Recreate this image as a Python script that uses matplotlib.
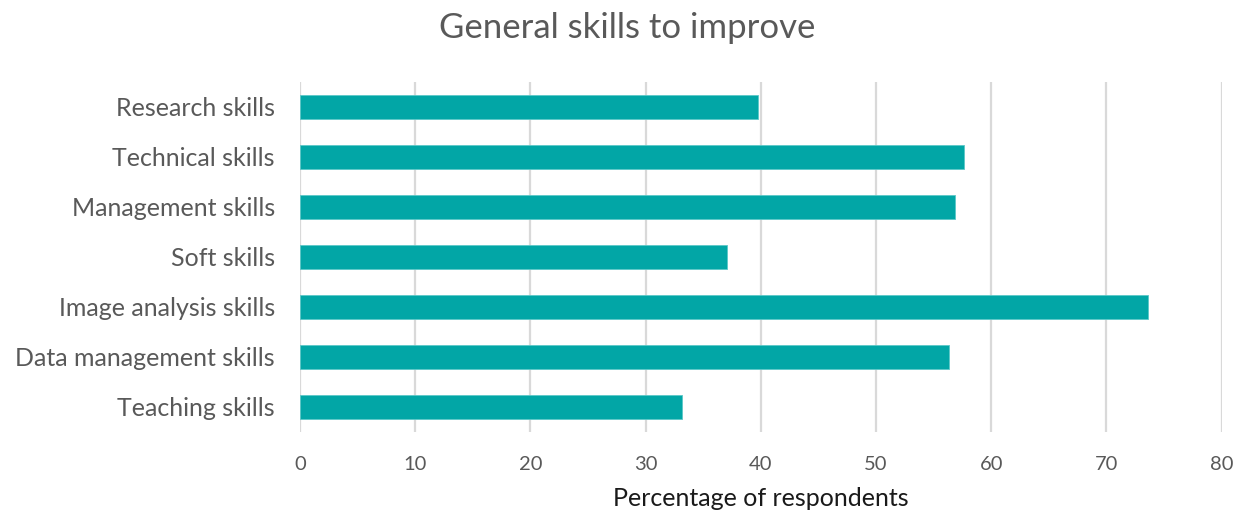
import matplotlib
matplotlib.use("Agg")
import matplotlib.pyplot as plt

categories = ["Research skills", "Technical skills", "Management skills", "Soft skills",
              "Image analysis skills", "Data management skills", "Teaching skills"]
percentages = [39.8, 57.6, 56.9, 37.1, 73.6, 56.3, 33.2]
x_ticks = [0, 10, 20, 30, 40, 50, 60, 70, 80]

plt.rcParams["font.family"] = ["Lato", "DejaVu Sans"]

fig = plt.figure(figsize=(12.41, 5.17), dpi=100)
ax = fig.add_axes([300 / 1241, 1 - 432 / 517, 921.6 / 1241, 350 / 517])

ypos = list(range(len(categories)))
ax.barh(ypos, percentages, height=0.48, color="#02a6a6", edgecolor="#5cc8c8",
        linewidth=0.6, zorder=3)

ax.set_ylim(len(categories) - 0.5, -0.5)
ax.set_yticks(ypos)
ax.set_yticklabels(categories, fontsize=18, color="#595959")
ax.set_xlim(0, 80)
ax.set_xticks(x_ticks)
ax.set_xticklabels([str(t) for t in x_ticks], fontsize=14.5, color="#595959")

ax.tick_params(axis="y", length=0, pad=18)
ax.tick_params(axis="x", length=0, pad=17)
ax.grid(axis="x", color="#d9d9d9", linewidth=1.6, zorder=0)
for s in ax.spines.values():
    s.set_visible(False)

ax.set_xlabel("Percentage of respondents", fontsize=18, color="#1a1a1a", labelpad=10)
fig.text(627 / 1241, 1 - 28 / 517, "General skills to improve", ha="center", va="center",
         fontsize=25, color="#595959")

fig.savefig("out.png", dpi=100, facecolor="white")
